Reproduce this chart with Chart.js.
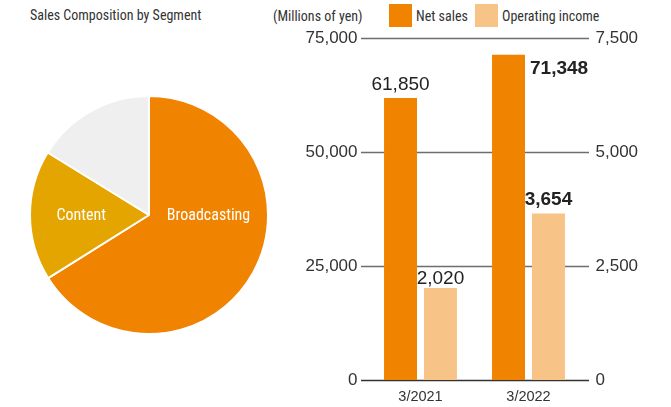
<!DOCTYPE html>
<html>
<head>
<meta charset="utf-8">
<script src="https://cdn.jsdelivr.net/npm/chart.js@4/dist/chart.umd.min.js"></script>
<style>
    body { margin: 0; background: #fff; }
    #wrap { position: relative; width: 671px; height: 407px; overflow: hidden; font-family: "Roboto Condensed", "DejaVu Sans Condensed", sans-serif; color: #333; }
    .txt { position: absolute; font-size: 14px; line-height: 18px; white-space: nowrap; }
    .sq { position: absolute; width: 23px; height: 23px; top: 4px; }
    #pieBox { position: absolute; left: 29px; top: 95px; width: 240px; height: 240px; }
    #barBox { position: absolute; left: 290px; top: 0; width: 381px; height: 407px; }
</style>
</head>
<body>
<div id="wrap">
    <div class="txt" style="left:30px;top:6px;">Sales Composition by Segment</div>
    <div class="txt" style="left:273px;top:7px;">(Millions of yen)</div>
    <div class="sq" style="left:389px;background:#f08300;"></div>
    <div class="txt" style="left:416px;top:7px;">Net sales</div>
    <div class="sq" style="left:475px;background:#f8c386;"></div>
    <div class="txt" style="left:502px;top:7px;">Operating income</div>
    <div id="pieBox"><canvas id="pieChart"></canvas></div>
    <div id="barBox"><canvas id="barChart"></canvas></div>
</div>
<script>
(() => {
    // DADOS
    const segments = ["Broadcasting", "Content", "Other"];
    const segmentShare = [66.1, 17.7, 16.2];
    const segmentLabelShown = [true, true, false];

    const years = ["3/2021", "3/2022"];
    const netSales = [61850, 71348];
    const operatingIncome = [2020, 3654];
    const salesTicks = [0, 25000, 50000, 75000];
    const incomeTicks = [0, 2500, 5000, 7500];

    const ORANGE = "#f08300";
    const LIGHT = "#f8c386";
    const GOLD = "#e5a500";
    const GREY = "#efefef";
    const NARROW = "'Roboto Condensed', 'DejaVu Sans Condensed', sans-serif";
    const NUM = "'Liberation Sans', Arial, sans-serif";

    const fmt = (v) => new Intl.NumberFormat("en-US").format(v);

    // PIE
    const pieLabels = {
        id: "pieLabels",
        afterDatasetsDraw(chart) {
            const { ctx } = chart;
            const arcs = chart.getDatasetMeta(0).data;
            ctx.save();
            ctx.fillStyle = "#fff";
            ctx.font = "16px " + NARROW;
            ctx.textAlign = "center";
            ctx.textBaseline = "middle";
            arcs.forEach((arc, i) => {
                if (!segmentLabelShown[i]) return;
                const p = arc.getProps(["x", "y", "startAngle", "endAngle", "outerRadius"], true);
                // Broadcasting sits on the horizontal line, the others on their mid angle
                const ang = i === 0 ? 0 : (p.startAngle + p.endAngle) / 2;
                const r = p.outerRadius * (i === 0 ? 0.5 : 0.57);
                ctx.fillText(segments[i], p.x + Math.cos(ang) * r, p.y + Math.sin(ang) * r + 1);
            });
            ctx.restore();
        }
    };

    new Chart(document.getElementById("pieChart"), {
        type: "pie",
        data: {
            labels: segments,
            datasets: [{
                data: segmentShare,
                backgroundColor: [ORANGE, GOLD, GREY],
                borderColor: "#fff",
                borderWidth: 2
            }]
        },
        options: {
            responsive: true,
            maintainAspectRatio: false,
            animation: false,
            layout: { padding: 0 },
            plugins: { legend: { display: false }, tooltip: { enabled: false } }
        },
        plugins: [pieLabels]
    });

    // BARRAS
    const gridY = (chart) => salesTicks.map(t => Math.round(chart.scales.ySales.getPixelForValue(t)) + 0.5);

    const gridLines = {
        id: "gridLines",
        beforeDatasetsDraw(chart) {
            const { ctx, chartArea } = chart;
            ctx.save();
            gridY(chart).forEach((py, i) => {
                ctx.strokeStyle = salesTicks[i] === 0 ? "#333" : "#6e6e6e";
                ctx.lineWidth = 1.5;
                ctx.beginPath();
                ctx.moveTo(chartArea.left - 5.5, py);
                ctx.lineTo(chartArea.right + 6.5, py);
                ctx.stroke();
            });
            ctx.restore();
        }
    };

    const valueLabels = {
        id: "valueLabels",
        afterDatasetsDraw(chart) {
            const { ctx } = chart;
            const lines = gridY(chart);
            ctx.save();
            ctx.fillStyle = "#222";
            ctx.textBaseline = "alphabetic";
            chart.data.datasets.forEach((ds, di) => {
                chart.getDatasetMeta(di).data.forEach((bar, i) => {
                    const latest = i === ds.data.length - 1;
                    ctx.font = (latest ? "bold " : "") + "19px " + NUM;
                    const text = fmt(ds.data[i]);
                    if (latest && di === 0) {
                        ctx.textAlign = "left";
                        ctx.fillText(text, bar.x + bar.width / 2 + 5, bar.y + 19);
                    } else {
                        ctx.textAlign = "center";
                        let base = bar.y - 8;
                        // keep the label clear of a grid line
                        lines.forEach(ly => { if (base - 14 <= ly && base >= ly) base = ly + 17; });
                        ctx.fillText(text, bar.x, base);
                    }
                });
            });
            ctx.restore();
        }
    };

    new Chart(document.getElementById("barChart"), {
        type: "bar",
        data: {
            labels: years,
            datasets: [
                { label: "Net sales", data: netSales, backgroundColor: ORANGE, yAxisID: "ySales", categoryPercentage: 0.74, barPercentage: 0.825 },
                { label: "Operating income", data: operatingIncome, backgroundColor: LIGHT, yAxisID: "yIncome", categoryPercentage: 0.74, barPercentage: 0.825 }
            ]
        },
        options: {
            responsive: true,
            maintainAspectRatio: false,
            animation: false,
            layout: { padding: { top: 38, left: 0, right: 0, bottom: 0 } },
            plugins: { legend: { display: false }, tooltip: { enabled: false } },
            scales: {
                x: {
                    grid: { display: false, drawTicks: false },
                    border: { display: false },
                    ticks: { color: "#333", font: { family: NUM, size: 14.5 }, padding: 8 },
                    afterFit: (s) => { s.height = 27; }
                },
                ySales: {
                    position: "left",
                    min: 0, max: 75000,
                    afterBuildTicks: (s) => { s.ticks = salesTicks.map(v => ({ value: v })); },
                    grid: { display: false, drawTicks: false },
                    border: { display: false },
                    ticks: { color: "#333", font: { family: NUM, size: 17 }, padding: 9, callback: (v) => fmt(v) },
                    afterFit: (s) => { s.width = 76.5; }
                },
                yIncome: {
                    position: "right",
                    min: 0, max: 7500,
                    afterBuildTicks: (s) => { s.ticks = incomeTicks.map(v => ({ value: v })); },
                    grid: { display: false, drawTicks: false },
                    border: { display: false },
                    ticks: { color: "#333", font: { family: NUM, size: 17 }, padding: 13, callback: (v) => fmt(v) },
                    afterFit: (s) => { s.width = 88.5; }
                }
            }
        },
        plugins: [gridLines, valueLabels]
    });
})();
</script>
</body>
</html>
